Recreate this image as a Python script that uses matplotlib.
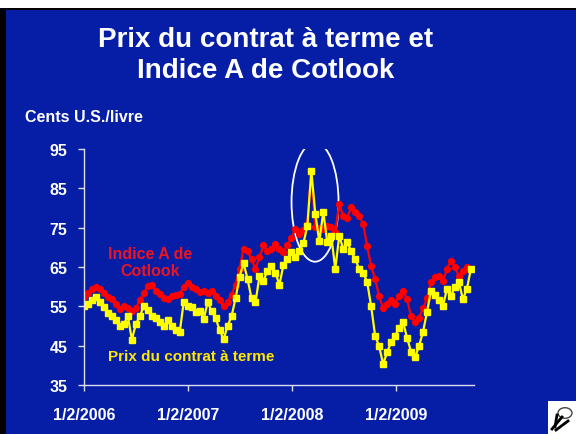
import matplotlib
matplotlib.use("Agg")
import matplotlib.pyplot as plt
import matplotlib.dates as mdates
from matplotlib.patches import Ellipse, Rectangle, Circle
from matplotlib.lines import Line2D
import pandas as pd

plt.rcParams['font.family'] = ['Liberation Sans', 'DejaVu Sans']
plt.rcParams['font.weight'] = 'bold'

# Cotlook A index and futures price, US cents/lb, read about every two weeks
start = '2006-01-02'
cotlook = [57.3, 58.5, 59.5, 60.0, 59.5, 58.3, 57.5, 56.8, 55.5, 54.3,
           55.0, 54.5, 53.8, 54.5, 56.5, 58.5, 60.1, 60.3, 59.0, 58.1,
           57.0, 56.8, 57.6, 57.8, 58.1, 60.0, 61.0, 60.0, 59.4, 58.6,
           58.9, 58.5, 58.9, 57.6, 56.5, 55.0, 56.1, 58.0, 60.5, 64.5,
           69.5, 69.0, 67.0, 64.5, 67.5, 70.5, 69.0, 69.5, 70.8, 69.5,
           68.8, 70.5, 72.5, 74.6, 73.5, 74.5, 76.0, 89.4, 75.2, 74.8,
           74.6, 75.5, 75.2, 74.0, 81.0, 78.0, 77.5, 80.2, 79.0, 78.0,
           76.0, 70.3, 65.2, 62.0, 57.6, 54.5, 55.5, 56.5, 55.6, 57.6,
           59.0, 56.8, 52.5, 51.0, 52.0, 54.5, 57.0, 61.2, 62.5, 62.7,
           61.4, 64.5, 66.5, 65.0, 62.7, 64.0, 65.0, 64.5]
futures = [55.1, 55.5, 56.5, 57.3, 56.0, 54.8, 53.3, 52.5, 51.5, 50.0,
           50.5, 52.5, 46.5, 50.5, 52.5, 55.1, 54.0, 52.5, 52.0, 51.0,
           50.0, 51.4, 50.0, 49.0, 48.5, 56.0, 55.0, 54.8, 53.5, 53.8,
           51.7, 56.0, 53.8, 52.0, 49.0, 46.6, 50.0, 52.5, 57.0, 62.5,
           66.0, 62.0, 57.0, 56.0, 62.7, 61.5, 64.0, 65.2, 63.5, 60.5,
           65.5, 67.0, 68.8, 67.5, 69.0, 71.0, 75.4, 89.4, 78.5, 71.5,
           79.0, 71.3, 72.9, 64.5, 72.9, 69.6, 71.3, 69.0, 67.0, 64.5,
           63.5, 61.2, 55.0, 47.5, 44.9, 40.3, 43.3, 45.9, 47.5, 49.5,
           51.0, 47.0, 43.5, 42.0, 44.9, 48.5, 53.5, 59.0, 58.0, 56.5,
           55.1, 59.4, 57.6, 60.0, 61.2, 56.8, 59.4, 64.5]
dates = pd.date_range(start, periods=len(cotlook), freq='14D')

yticks = [35, 45, 55, 65, 75, 85, 95]
xtick_dates = ['2006-01-02', '2007-01-02', '2008-01-02', '2009-01-02']
xtick_labels = ['1/2/2006', '1/2/2007', '1/2/2008', '1/2/2009']

bg = '#061EA6'
fig = plt.figure(figsize=(5.76, 4.35), dpi=100, facecolor='black')

# slide frame: white strip on top, black edge on left, blue body
fig.patches.append(Rectangle((6 / 576, 0), 1, 1 - 11 / 435, transform=fig.transFigure,
                             facecolor=bg, edgecolor='none', zorder=-10))
fig.patches.append(Rectangle((0, 1 - 9 / 435), 1, 9 / 435, transform=fig.transFigure,
                             facecolor='white', edgecolor='none', zorder=-9))
# small cotton logo, bottom right
fig.patches.append(Rectangle((548 / 576, 0), 28 / 576, 33 / 435, transform=fig.transFigure,
                             facecolor='white', edgecolor='none', zorder=-9))
fig.patches.append(Circle((565 / 576, 1 - 414 / 435), 7 / 576, transform=fig.transFigure,
                          facecolor='none', edgecolor='#444444', lw=1, zorder=-8))
for x0, y0, x1, y1 in [(552, 430, 562, 418), (556, 431, 568, 422), (555, 428, 557, 416)]:
    fig.lines.append(Line2D([x0 / 576, x1 / 576], [1 - y0 / 435, 1 - y1 / 435],
                            transform=fig.transFigure, color='black', lw=2, zorder=-7))

fig.text(266 / 576, 1 - 40 / 435, 'Prix du contrat à terme et', color='white',
         fontsize=20, ha='center', va='center')
fig.text(266 / 576, 1 - 71 / 435, 'Indice A de Cotlook', color='white',
         fontsize=20, ha='center', va='center')
fig.text(25 / 576, 1 - 118 / 435, 'Cents U.S./livre', color='white',
         fontsize=11.5, ha='left', va='center')

ax = fig.add_axes([84 / 576, 1 - 386 / 435, 390 / 576, 236 / 435])
ax.set_facecolor('none')
ax.set_zorder(5)

ax.plot(dates, cotlook, color='#FF0000', lw=1.6, marker='o', ms=4.2, mec='#FF0000')
ax.plot(dates, futures, color='#FFFF00', lw=1.6, marker='s', ms=4.5, mec='#FFFF00')

ax.add_patch(Ellipse((mdates.date2num(pd.Timestamp('2008-03-23')), 81.5), 165, 30.3,
                     fill=False, edgecolor='white', lw=1.3))

ax.text(mdates.date2num(pd.Timestamp('2006-08-22')), 66.3, 'Indice A de\nCotlook',
        color='#EE141E', fontsize=11.5, ha='center', va='center', linespacing=1.15)
ax.text(mdates.date2num(pd.Timestamp('2007-01-12')), 42.3, 'Prix du contrat à terme',
        color='#FFE800', fontsize=11, ha='center', va='center')

ax.set_xlim(pd.Timestamp('2006-01-02'), pd.Timestamp('2009-10-02'))
ax.set_ylim(35, 95)
ax.set_yticks(yticks)
ax.set_xticks(pd.to_datetime(xtick_dates))
ax.set_xticklabels(xtick_labels)

for side in ['top', 'right']:
    ax.spines[side].set_visible(False)
for side in ['left', 'bottom']:
    ax.spines[side].set_color('#DDDDEE')
    ax.spines[side].set_linewidth(1)
ax.tick_params(colors='#DDDDEE', labelcolor='white', labelsize=11.5, length=4, width=1)
ax.tick_params(axis='x', pad=12)
ax.tick_params(axis='y', pad=8)

fig.savefig('out.png', dpi=100, facecolor=fig.get_facecolor())
